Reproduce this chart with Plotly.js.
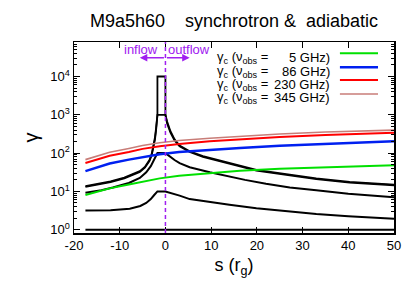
<!DOCTYPE html>
<html>
<head>
<meta charset="utf-8">
<script src="https://cdn.plot.ly/plotly-3.0.1.min.js"></script>
<style>html,body{margin:0;padding:0;background:#fff;}#chart{width:415px;height:291px;}</style>
</head>
<body>
<div id="chart"></div>
<script>
// ---- data ----
const s_g4 = [-17.5, -15, -12, -9, -7, -5.6, -4.5, -3.5, -3.0, -2.6, -2.3, -2.05, -1.85, -1.75, -1.75, 0, 0, 0.35, 1.1, 2, 3.1, 5.3, 8.2, 12.6, 19.9, 27.2, 33, 40.3, 50];
const g_g4 = [13.8, 15.5, 18.2, 22.9, 28.2, 33.9, 43.6, 66.1, 95.5, 158, 251, 447, 794, 1000, 10000, 10000, 1000, 676, 372, 229, 158, 112, 83.2, 61.7, 36.3, 27.5, 21.9, 17.8, 15.1];
const s_g3 = [-17.5, -15, -12, -9, -7, -5.6, -4.5, -3.5, -3.0, -2.6, -2.3, -2.05, -1.85, -1.75, 0, 0.35, 1.1, 2, 3.1, 5.3, 8.2, 12.6, 19.9, 27.2, 33, 40.3, 50];
const g_g3 = [13.2, 14.8, 17.4, 21.9, 27.0, 32.4, 41.5, 62.0, 88.0, 142, 222, 390, 700, 1000, 1000, 600, 345, 214, 150, 107, 79.4, 58.9, 34.7, 26.3, 21.0, 17.0, 14.5];
const s_g2 = [-17.5, -14, -11.5, -8, -5.6, -4.2, -3.2, -2.7, -2.2, -1.9, -1.75, 0, 0.5, 1, 2, 3.1, 5.3, 9.7, 12.6, 17.4, 22, 27.2, 33, 40, 50];
const g_g2 = [9.3, 10.7, 12.6, 16.6, 22.4, 31.6, 45.7, 60.3, 83.2, 95.5, 100, 100, 89.1, 79.4, 66.1, 55.0, 42.7, 31.6, 26.3, 20.0, 15.8, 12.6, 10.7, 8.7, 7.1];
const s_g1 = [-17.5, -12, -7.8, -5.5, -4.2, -3.2, -2.5, -2.0, -1.75, 0, 1, 3.1, 5.3, 9.7, 14, 19.9, 27.2, 33, 40, 50];
const g_g1 = [3.16, 3.24, 3.55, 4.17, 5.01, 6.31, 7.94, 9.33, 10, 10, 9.33, 7.76, 6.31, 5.25, 4.47, 3.63, 2.95, 2.57, 2.24, 1.95];
const s_g0 = [-17.5, 50];
const g_g0 = [1, 1];

const s_c = [-17.5, -12.2, -8, -5, -1.25, 3, 9.7, 16.3, 25, 35, 50];
const gc_5 = [8.1, 12.0, 15.1, 17.8, 21.9, 25.7, 30.2, 34.7, 38.9, 42.7, 47.9];
const gc_86 = [33.9, 53.7, 67.6, 79.4, 93.3, 107, 123, 135, 155, 174, 204];
const gc_230 = [55.0, 85.1, 107, 129, 151, 174, 204, 229, 263, 295, 339];
const gc_345 = [67.6, 105, 132, 158, 186, 214, 245, 275, 316, 355, 398];

const freqLabels = ["5 GHz)", "86 GHz)", "230 GHz)", "345 GHz)"];
const xTicks = [-20, -10, 0, 10, 20, 30, 40, 50];
const xTickText = ["-20", "-10", "0", "10", "20", "30", "40", "50"];
const yTicks = [1, 10, 100, 1000, 10000];
const yTickText = ["10<sup>0</sup>", "10<sup>1</sup>", "10<sup>2</sup>", "10<sup>3</sup>", "10<sup>4</sup>"];
const sBoundary = 0;

// ---- styling ----
const FONT = "Liberation Sans, Arial, Helvetica, sans-serif";
const purple = "#a020f0";
const cols = ["#00e000", "#0020f0", "#ff0000", "rgb(200,125,120)"];
const widths = [2, 2.5, 2, 1.6];

const traces = [];
const blk = (x, y, w) => ({x: x, y: y, type: "scatter", mode: "lines", line: {color: "#000", width: w}, showlegend: false, hoverinfo: "skip"});
traces.push(blk(s_g0, g_g0, 2));
traces.push(blk(s_g1, g_g1, 2));
traces.push(blk(s_g2, g_g2, 2));
traces.push(blk(s_g3, g_g3, 1.8));
traces.push(blk(s_g4, g_g4, 1.8));
[gc_5, gc_86, gc_230, gc_345].forEach((g, i) => {
  traces.push({x: s_c, y: g, type: "scatter", mode: "lines", line: {color: cols[i], width: widths[i]}, showlegend: false, hoverinfo: "skip"});
});

// minor log ticks
const minorVals = [];
for (let d = 0; d <= 4; d++) for (let k = 2; k <= 9; k++) minorVals.push(k * Math.pow(10, d));

const annotations = [];
const shapes = [];
// legend (gnuplot style: text then sample)
const textY = [0.918, 0.847, 0.777, 0.708];
const sampleY = [0.941, 0.868, 0.801, 0.728];
freqLabels.forEach((lab, i) => {
  annotations.push({xref: "paper", yref: "paper", x: 0.441, y: textY[i], xanchor: "left", yanchor: "middle",
    text: "γ<sub>c</sub> (ν<sub>obs</sub> =", showarrow: false, font: {family: FONT, size: 13, color: "#000"}});
  annotations.push({xref: "paper", yref: "paper", x: 0.806, y: textY[i], xanchor: "right", yanchor: "middle",
    text: lab, showarrow: false, font: {family: FONT, size: 13, color: "#000"}});
  shapes.push({type: "line", xref: "paper", yref: "paper", x0: 0.831, x1: 0.95, y0: sampleY[i], y1: sampleY[i],
    line: {color: cols[i], width: widths[i]}});
});
// inflow / outflow
annotations.push({xref: "x", yref: "paper", x: -1.2, y: 0.963, xanchor: "right", yanchor: "middle", text: "inflow",
  showarrow: false, font: {family: FONT, size: 13, color: purple}});
annotations.push({xref: "x", yref: "paper", x: 0.15, y: 0.963, xanchor: "left", yanchor: "middle", text: "outflow",
  showarrow: false, font: {family: FONT, size: 13, color: purple}});
[-5.6, 5.3].forEach(h => {
  annotations.push({xref: "x", yref: "paper", x: h, y: 0.917, axref: "x", ax: sBoundary, ayref: "pixel", ay: 0,
    showarrow: true, arrowhead: 2, arrowsize: 1, arrowwidth: 1.5, arrowcolor: purple, text: ""});
});
shapes.push({type: "line", xref: "x", yref: "paper", x0: sBoundary, x1: sBoundary, y0: 0, y1: 1,
  line: {color: purple, width: 1.5, dash: "4px,3px"}});

const layout = {
  width: 415, height: 291,
  margin: {l: 74, r: 21, t: 42, b: 58, pad: 0},
  paper_bgcolor: "#fff", plot_bgcolor: "#fff",
  font: {family: FONT, size: 13, color: "#000"},
  title: {text: "M9a5h60\u00a0\u00a0\u00a0\u00a0synchrotron &\u00a0\u00a0adiabatic", font: {family: FONT, size: 18, color: "#000"},
    x: 0.5, xref: "paper", y: 0.93, yref: "container", yanchor: "middle"},
  xaxis: {range: [-20, 50], tickvals: xTicks, ticktext: xTickText, ticks: "inside", ticklen: 6, tickwidth: 1, tickcolor: "#000",
    showline: true, linecolor: "#000", linewidth: 1.5, mirror: "ticks", showgrid: false, zeroline: false,
    tickfont: {family: FONT, size: 13}, title: {text: "s (r<sub>g</sub>)", font: {family: FONT, size: 18}, standoff: 6}},
  yaxis: {type: "log", range: [-0.085, 4.9], tickvals: yTicks, ticktext: yTickText, ticks: "inside", ticklen: 6,
    tickwidth: 1, tickcolor: "#000", showline: true, linecolor: "#000", linewidth: 1.5, mirror: "ticks",
    showgrid: false, zeroline: false, tickfont: {family: FONT, size: 13},
    minor: {tickvals: minorVals, ticks: "inside", ticklen: 3, tickcolor: "#000", tickwidth: 1, showgrid: false},
    title: {text: "γ", font: {family: FONT, size: 20}, standoff: 6}},
  annotations: annotations,
  shapes: shapes,
  showlegend: false
};

Plotly.newPlot("chart", traces, layout, {staticPlot: true, displayModeBar: false});
</script>
</body>
</html>
